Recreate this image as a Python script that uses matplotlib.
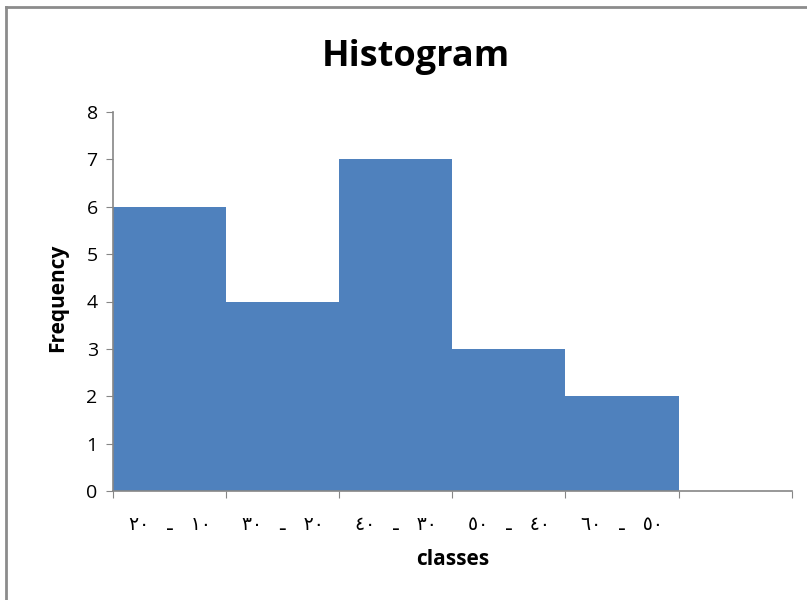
import matplotlib.pyplot as plt
import numpy as np
from matplotlib.lines import Line2D

classes = ['٢٠   ـ   ١٠', '٣٠   ـ   ٢٠', '٤٠   ـ   ٣٠', '٥٠   ـ   ٤٠', '٦٠   ـ   ٥٠', '']
frequency = [6, 4, 7, 3, 2, 0]

fig = plt.figure(figsize=(8.07, 6.0), dpi=100)
ax = fig.add_axes([0.140, 0.1817, 0.841, 0.6316])

x = np.arange(len(classes))
ax.bar(x, frequency, width=1.0, align='edge', color='#4F81BD')

ax.set_xlim(0, len(classes))
ax.set_ylim(0, 8)
ax.set_yticks(range(0, 9))
ax.set_xticks(range(0, len(classes) + 1))
ax.set_xticklabels([])
ax.set_xticks(x + 0.5, minor=True)
ax.set_xticklabels(classes, minor=True, fontsize=13.5, family=['DejaVu Sans'])
ax.tick_params(axis='x', which='minor', length=0, pad=17)
ax.tick_params(axis='x', which='major', length=5, color='#868686', direction='out')
ax.tick_params(axis='y', length=5, color='#868686', labelsize=14, pad=6)
for t in ax.get_yticklabels():
    t.set_family('Open Sans')

for s in ['top', 'right']:
    ax.spines[s].set_visible(False)
for s in ['left', 'bottom']:
    ax.spines[s].set_color('#868686')
    ax.spines[s].set_linewidth(1.2)

fig.text(0.5155, 0.905, 'Histogram', ha='center', va='center', fontsize=26,
         fontweight='bold', family='Open Sans')
fig.text(0.5605, 0.067, 'classes', ha='center', va='center', fontsize=15,
         fontweight='bold', family='Open Sans')
fig.text(0.071, 0.503, 'Frequency', ha='center', va='center', fontsize=15,
         fontweight='bold', family='Open Sans', rotation=90)

# outer chart frame
fig.add_artist(Line2D([6.5 / 807, 6.5 / 807], [0, 1 - 6.5 / 600], color='#8c8c8c', lw=2))
fig.add_artist(Line2D([6.5 / 807, 1], [1 - 6.5 / 600, 1 - 6.5 / 600], color='#8c8c8c', lw=2))

fig.savefig('out.png', dpi=100)
